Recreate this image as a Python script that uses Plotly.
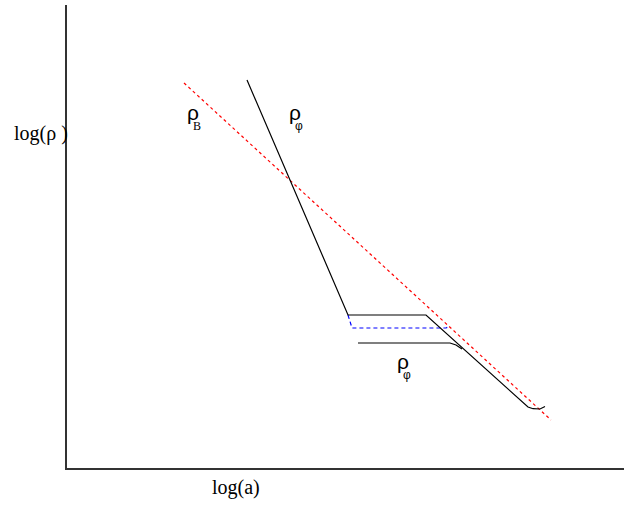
import plotly.graph_objects as go

# Data in plot units (x: log(a), y: log(rho)), schematic
phi_x = [180, 281, 359, 461, 466, 473, 478]
phi_y = [388, 153, 153, 61, 59.3, 59, 61.5]

phi2_x = [291, 383, 389, 395]
phi2_y = [125, 125, 123, 119]

blue_x = [281, 285, 379, 381]
blue_y = [153, 140, 140, 141]

B_x = [117, 484]
B_y = [385, 48]

X0, Y0, W, H = 67, 468, 557, 463  # plot area in pixels


def px(x):
    return (x - X0) / W


def py(y):
    return (Y0 - y) / H


fig = go.Figure()
fig.add_trace(go.Scatter(x=B_x, y=B_y, mode="lines",
                         line=dict(color="red", width=1.2, dash="3px,3px")))
fig.add_trace(go.Scatter(x=blue_x, y=blue_y, mode="lines",
                         line=dict(color="blue", width=1.2, dash="4px,3px")))
fig.add_trace(go.Scatter(x=phi_x, y=phi_y, mode="lines",
                         line=dict(color="black", width=1.2)))
fig.add_trace(go.Scatter(x=phi2_x, y=phi2_y, mode="lines",
                         line=dict(color="black", width=1.2)))

serif = dict(family="Liberation Serif, Times New Roman, serif", size=20, color="black")
sans = dict(family="Liberation Sans, Arial, sans-serif", size=21, color="black")


def rho(sub, fam):
    return ('<span style="letter-spacing:-6px">ρ</span>'
            '<span style="font-family:%s;font-size:12px;baseline-shift:-10px">%s</span>'
            % (fam, sub))


ann = [
    (40.5, 133, "log(ρ )", serif),
    (235.5, 487.5, "log(a)", serif),
    (194, 117, rho("B", "Liberation Serif"), sans),
    (296, 117, rho("φ", "Liberation Sans"), sans),
    (404, 366, rho("φ", "Liberation Sans"), sans),
]
annotations = [dict(x=px(a), y=py(b), text=t, font=f, xref="paper", yref="paper",
                    showarrow=False, xanchor="center", yanchor="middle")
               for a, b, t, f in ann]

fig.update_layout(
    width=625, height=509,
    margin=dict(l=67, r=1, t=5, b=41),
    paper_bgcolor="white", plot_bgcolor="white",
    showlegend=False,
    annotations=annotations,
    xaxis=dict(range=[0, 557], showgrid=False, zeroline=False, showticklabels=False,
               ticks="", showline=True, linecolor="#333", linewidth=1.5, mirror=False),
    yaxis=dict(range=[0, 463], showgrid=False, zeroline=False, showticklabels=False,
               ticks="", showline=True, linecolor="#333", linewidth=1.5, mirror=False),
)
fig.write_html("out.html", config={"displayModeBar": False},
               post_script="document.body.style.margin='0';")
